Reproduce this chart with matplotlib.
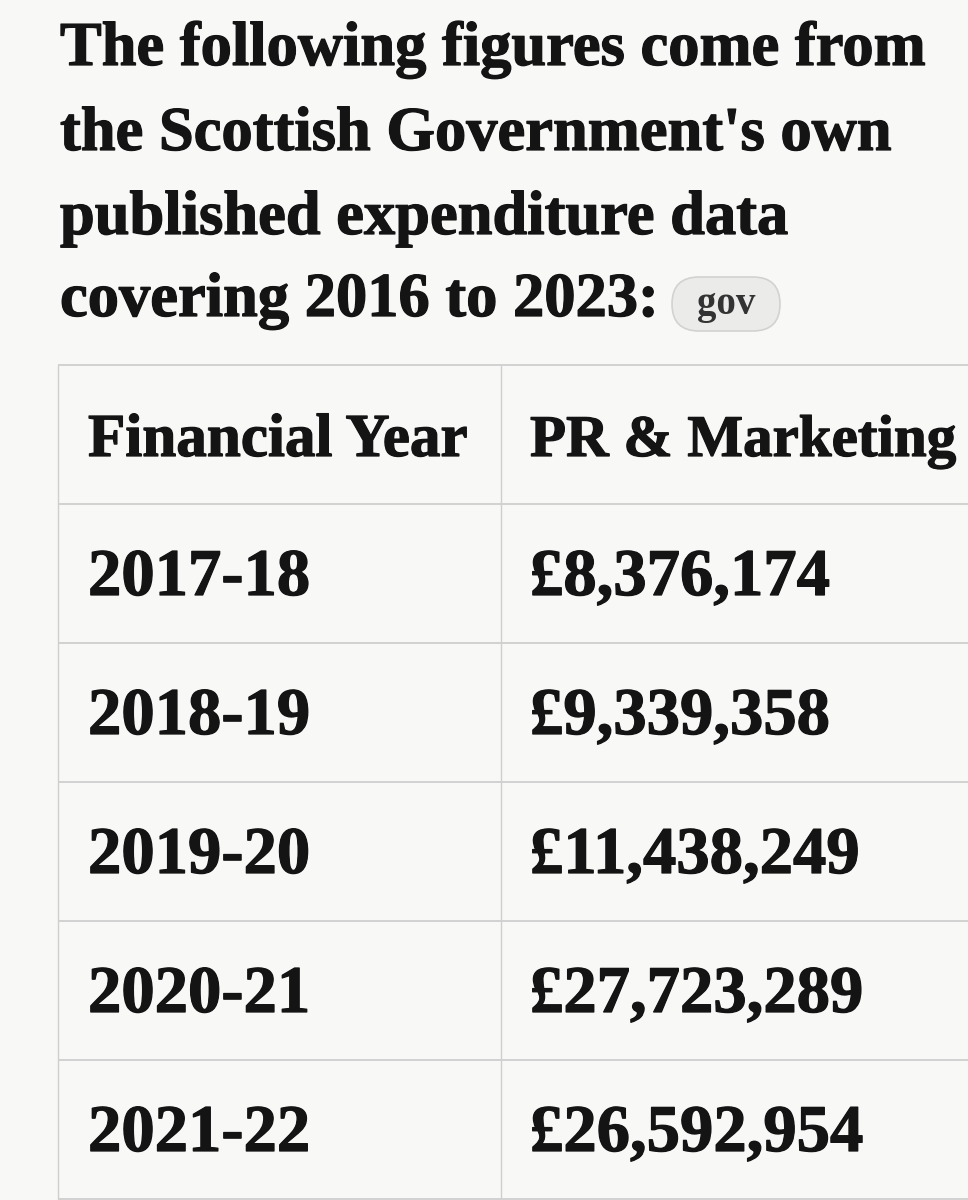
"""Scottish Government PR & Marketing spend table, redrawn as a matplotlib figure."""

import matplotlib

matplotlib.use("Agg")
import matplotlib.pyplot as plt
import matplotlib.patheffects as pe
from matplotlib.patches import FancyBboxPatch

TITLE_LINES = [
    "The following figures come from",
    "the Scottish Government's own",
    "published expenditure data",
    "covering 2016 to 2023:",
]
BADGE_LABEL = "gov"
HEADERS = ["Financial Year", "PR & Marketing"]
YEARS = ["2017-18", "2018-19", "2019-20", "2020-21", "2021-22"]
SPEND = [8376174, 9339358, 11438249, 27723289, 26592954]

BG = "#f8f8f7"
INK = "#141414"
RULE = "#cfcfcf"
FONT = "Liberation Serif"
HEAVY = [pe.withStroke(linewidth=0.9, foreground=INK)]

W, H = 968, 1200
TABLE_LEFT, TABLE_SPLIT, TABLE_TOP, ROW_H = 58, 501, 365, 139


def money(v: int) -> str:
    return f"£{v:,}"


def main() -> None:
    fig = plt.figure(figsize=(W / 100, H / 100), dpi=100, facecolor=BG)
    ax = fig.add_axes([0, 0, 1, 1])
    ax.set_xlim(0, W)
    ax.set_ylim(H, 0)
    ax.axis("off")
    ax.set_facecolor(BG)

    # title block
    baselines = [65, 150, 234, 316]
    for line, y in zip(TITLE_LINES, baselines):
        ax.text(60, y, line, fontsize=45, fontweight="bold", family=FONT,
                color=INK, va="baseline", ha="left", path_effects=HEAVY)

    # "gov" pill
    pill = FancyBboxPatch((672, 277), 108, 54, boxstyle="round,pad=0,rounding_size=27",
                          facecolor="#ebebe9", edgecolor="#d2d2d0", linewidth=1.2)
    ax.add_patch(pill)
    ax.text(726, 314, BADGE_LABEL, fontsize=28, fontweight="bold", family=FONT,
            color="#333333", ha="center", va="baseline")

    # table rules
    n_rows = len(YEARS) + 1
    for i in range(n_rows + 1):
        ax.hlines(TABLE_TOP + i * ROW_H, TABLE_LEFT, W, color=RULE, linewidth=1.3)
    table_bottom = TABLE_TOP + n_rows * ROW_H
    ax.vlines([TABLE_LEFT, TABLE_SPLIT], TABLE_TOP, table_bottom, color=RULE, linewidth=1.0)

    cells = [HEADERS] + [[y, money(v)] for y, v in zip(YEARS, SPEND)]
    for r, (left, right) in enumerate(cells):
        y = TABLE_TOP + r * ROW_H + 91
        sizes = (44, 42.5) if r == 0 else (48, 48)
        for x, label, size in ((88, left, sizes[0]), (530, right, sizes[1])):
            ax.text(x, y, label, fontsize=size, fontweight="bold", family=FONT,
                    color=INK, va="baseline", ha="left", path_effects=HEAVY)

    fig.savefig("out.png", dpi=100, facecolor=BG)
    plt.close(fig)


if __name__ == "__main__":
    main()
